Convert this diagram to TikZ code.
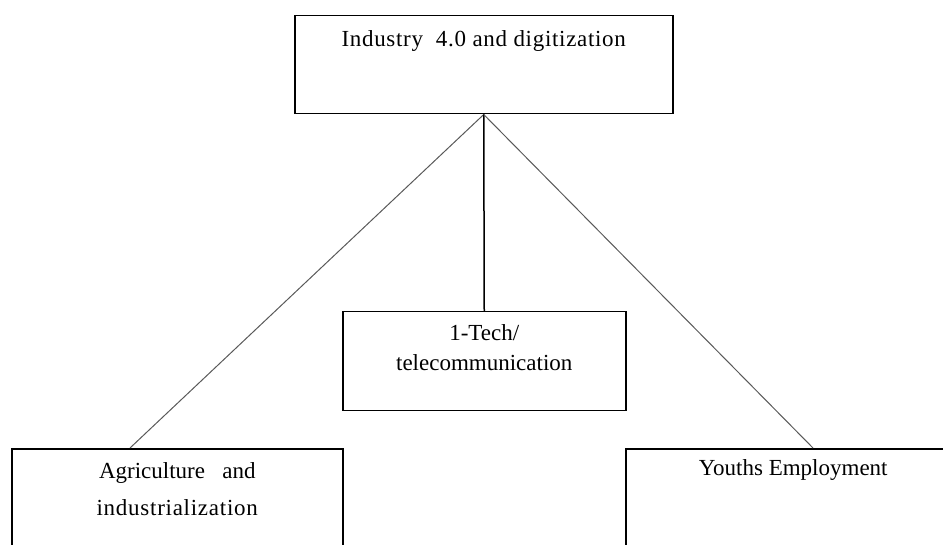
\documentclass[tikz,border=0pt]{standalone}
\usepackage{fontspec}
\setmainfont{Liberation Serif}
\usetikzlibrary{positioning,calc}

\begin{document}
\begin{tikzpicture}[x=1pt,y=-1pt,semithick,
                    font=\fontsize{23}{31}\selectfont]
  \tikzstyle{box}=[draw,line width=1.5pt,inner sep=0pt,anchor=north west]
  \tikzstyle{lbl}=[align=center,inner sep=0pt,anchor=base]
  \tikzstyle{branch}=[draw=black!65,line width=1pt]

  \useasboundingbox (0,0) rectangle (943,545);
  \clip (0,0) rectangle (943,545);

  \node[box,minimum width=378pt,minimum height=98pt] (top) at (294,15) {};
  \node[box,minimum width=283pt,minimum height=99pt] (mid) at (342,311) {};
  \node[box,minimum width=331pt,minimum height=120pt] (agri) at (11,448) {};
  \node[box,minimum width=335pt,minimum height=120pt] (youth) at (625,448) {};

  % base anchor sits on the last line
  \node[lbl] (toptext) at ([yshift=-32pt]top.north)
       {\addfontfeature{LetterSpace=3}Industry\ \ 4.0 and digitization};
  \node[lbl] (midtext) at ([yshift=-60pt]mid.north) {1-Tech/\\telecommunication};
  \node[lbl,font=\fontsize{23}{37}\selectfont] (agritext) at ([yshift=-67pt]agri.north)
       {Agriculture\ \ \ and\\{\addfontfeature{LetterSpace=3.2}industrialization}};
  \node[lbl] (youthtext) at ([yshift=-27pt]youth.north) {Youths Employment};

  \path (top.south) edge [branch] ([xshift=119pt]agri.north west)
                    edge [draw,line width=1.5pt] (mid.north)
                    edge [branch] ([xshift=188pt]youth.north west);
\end{tikzpicture}
\end{document}
